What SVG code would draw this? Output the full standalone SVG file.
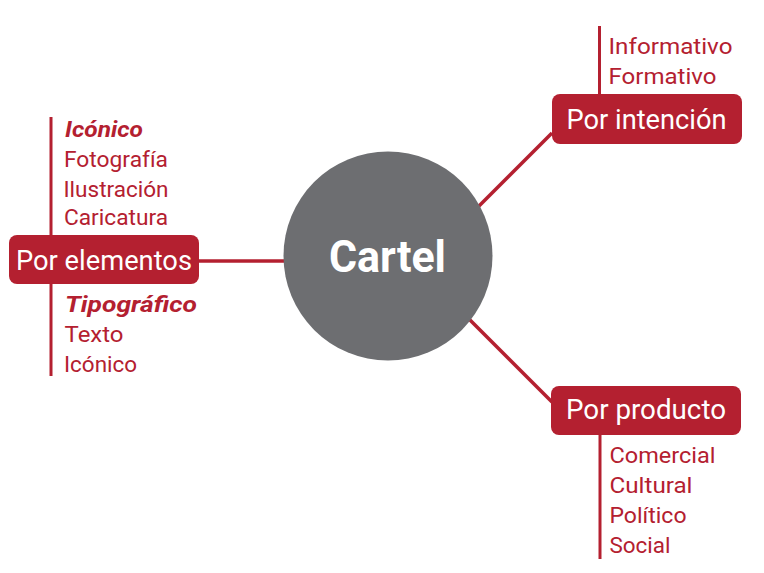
<svg xmlns="http://www.w3.org/2000/svg" width="764" height="573" viewBox="0 0 764 573">
<style>
.conn{stroke:#b42030;stroke-width:3.5;fill:none}
.bar{stroke:#b42030;stroke-width:3;fill:none}
.box{fill:#b42030}
.lbl{font-family:Roboto,"Liberation Sans",sans-serif;font-size:27px;fill:#ffffff;text-anchor:middle}
.item{font-family:Roboto,"Liberation Sans",sans-serif;font-size:22px;fill:#b42030}
.head{font-weight:bold;font-style:italic}
.center{font-family:Roboto,"Liberation Sans",sans-serif;font-size:44px;font-weight:bold;fill:#ffffff;text-anchor:middle}
</style>
<rect width="764" height="573" fill="#ffffff"/>
<g id="connectors">
<line class="conn" x1="199" y1="261" x2="300" y2="261"/>
<line class="conn" x1="552" y1="133" x2="450" y2="235"/>
<line class="conn" x1="552" y1="402" x2="450" y2="300"/>
<line class="bar" x1="51" y1="117" x2="51" y2="376"/>
<line class="bar" x1="599.5" y1="26" x2="599.5" y2="95"/>
<line class="bar" x1="600" y1="434" x2="600" y2="559"/>
</g>
<g id="cartel">
<circle cx="388" cy="256" r="104.5" fill="#6d6e71"/>
<text class="center" x="387.5" y="271.5" textLength="117" lengthAdjust="spacingAndGlyphs">Cartel</text>
</g>
<g id="por-elementos">
<rect class="box" x="9" y="235" width="190" height="49" rx="8"/>
<text class="lbl" x="104" y="270" textLength="176" lengthAdjust="spacingAndGlyphs">Por elementos</text>
</g>
<g id="elementos-items">
<text class="item head" x="65" y="137" textLength="78" lengthAdjust="spacingAndGlyphs">Icónico</text>
<text class="item" x="64" y="167" textLength="104" lengthAdjust="spacingAndGlyphs">Fotografía</text>
<text class="item" x="63.5" y="196.5" textLength="105" lengthAdjust="spacingAndGlyphs">Ilustración</text>
<text class="item" x="64" y="225" textLength="104" lengthAdjust="spacingAndGlyphs">Caricatura</text>
<text class="item head" x="65" y="312" textLength="132" lengthAdjust="spacingAndGlyphs">Tipográfico</text>
<text class="item" x="64.5" y="342" textLength="59" lengthAdjust="spacingAndGlyphs">Texto</text>
<text class="item" x="64" y="372" textLength="73" lengthAdjust="spacingAndGlyphs">Icónico</text>
</g>
<g id="por-intencion">
<rect class="box" x="552" y="94" width="190" height="50" rx="8"/>
<text class="lbl" x="646.5" y="128.5" textLength="160" lengthAdjust="spacingAndGlyphs">Por intención</text>
</g>
<g id="intencion-items">
<text class="item" x="608.5" y="54" textLength="124" lengthAdjust="spacingAndGlyphs">Informativo</text>
<text class="item" x="608.5" y="83.5" textLength="108" lengthAdjust="spacingAndGlyphs">Formativo</text>
</g>
<g id="por-producto">
<rect class="box" x="551" y="386" width="190" height="49" rx="8"/>
<text class="lbl" x="646" y="418.5" textLength="160" lengthAdjust="spacingAndGlyphs">Por producto</text>
</g>
<g id="producto-items">
<text class="item" x="609.5" y="462.5" textLength="106" lengthAdjust="spacingAndGlyphs">Comercial</text>
<text class="item" x="609.5" y="492.5" textLength="83" lengthAdjust="spacingAndGlyphs">Cultural</text>
<text class="item" x="609.5" y="522.5" textLength="77" lengthAdjust="spacingAndGlyphs">Político</text>
<text class="item" x="609.5" y="552.5" textLength="61" lengthAdjust="spacingAndGlyphs">Social</text>
</g>
</svg>
